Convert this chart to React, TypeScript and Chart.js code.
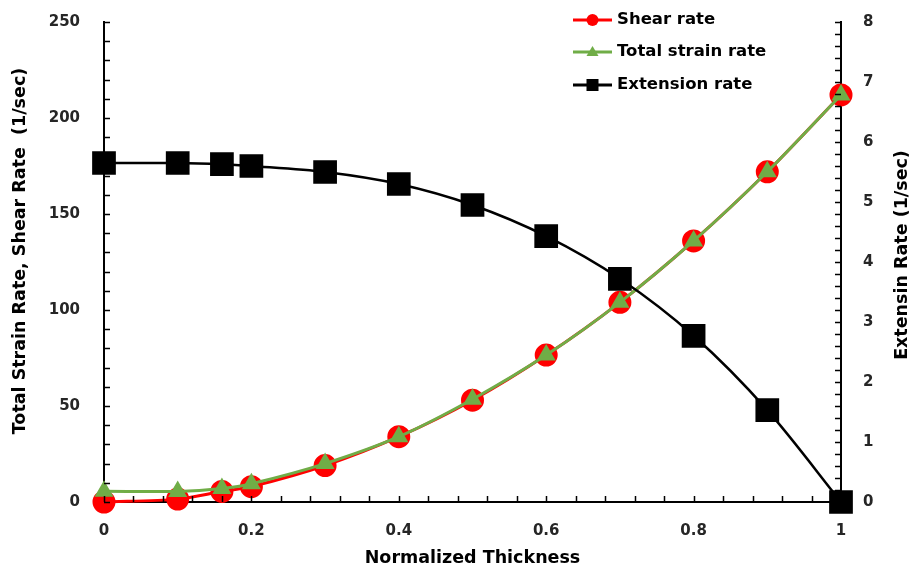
import React, { useEffect, useRef } from "react";
import { Chart, registerables } from "chart.js";

Chart.register(...registerables);

const thickness = [0, 0.1, 0.16, 0.2, 0.3, 0.4, 0.5, 0.6, 0.7, 0.8, 0.9, 1.0];
const shearRate = [0, 1.5, 5.5, 8, 19, 34, 53, 76.5, 104, 136, 172, 212];
const totalStrainRate = [5.6, 5.5, 7, 9.5, 20, 34, 53.5, 76.5, 104, 136, 172, 212];
const extensionRate = [5.65, 5.65, 5.63, 5.6, 5.5, 5.3, 4.95, 4.43, 3.72, 2.77, 1.53, 0];

const xTitle = "Normalized Thickness";
const yLeftTitle = "Total Strain Rate, Shear Rate  (1/sec)";
const yRightTitle = "Extensin Rate (1/sec)";

const FONT = "'DejaVu Sans', sans-serif";

const toPoints = (ys: number[]) => thickness.map((x, i) => ({ x, y: ys[i] }));

const tickPlugin = {
  id: "insideTicks",
  afterDraw(chart: any) {
    const ctx = chart.ctx;
    const { x, y, y1 } = chart.scales;
    const area = chart.chartArea;
    const len = 6;
    ctx.save();
    ctx.strokeStyle = "#000";
    ctx.lineWidth = 1.5;
    ctx.beginPath();
    for (let v = 0; v <= 250.001; v += 10) {
      const py = Math.round(y.getPixelForValue(v)) + 0.5;
      ctx.moveTo(area.left, py);
      ctx.lineTo(area.left + len, py);
    }
    for (let v = 0; v <= 8.001; v += 0.2) {
      const py = Math.round(y1.getPixelForValue(v)) + 0.5;
      ctx.moveTo(area.right, py);
      ctx.lineTo(area.right - len, py);
    }
    for (let v = 0; v <= 1.0001; v += 0.04) {
      const px = Math.round(x.getPixelForValue(v)) + 0.5;
      ctx.moveTo(px, area.bottom);
      ctx.lineTo(px, area.bottom - len);
    }
    ctx.stroke();

    // vertical axis titles
    ctx.fillStyle = "#000";
    ctx.font = `bold 17.5px ${FONT}`;
    ctx.textAlign = "center";
    ctx.textBaseline = "middle";
    ctx.save();
    ctx.translate(20, 251);
    ctx.rotate(-Math.PI / 2);
    ctx.fillText(yLeftTitle, 0, 0);
    ctx.restore();
    ctx.save();
    ctx.translate(902, 255);
    ctx.rotate(-Math.PI / 2);
    ctx.fillText(yRightTitle, 0, 0);
    ctx.restore();
    ctx.restore();
  },
};

const legendPlugin = {
  id: "customLegend",
  afterDraw(chart: any) {
    const ctx = chart.ctx;
    const rows = [20, 52, 85];
    const x0 = 573;
    const x1 = 612;
    ctx.save();
    chart.data.datasets.forEach((ds: any, i: number) => {
      const yy = rows[i];
      ctx.strokeStyle = ds.borderColor;
      ctx.lineWidth = 3;
      ctx.beginPath();
      ctx.moveTo(x0, yy);
      ctx.lineTo(x1, yy);
      ctx.stroke();
      ctx.fillStyle = ds.pointBackgroundColor;
      const cx = (x0 + x1) / 2;
      if (ds.pointStyle === "circle") {
        ctx.beginPath();
        ctx.arc(cx, yy, 6, 0, Math.PI * 2);
        ctx.fill();
      } else if (ds.pointStyle === "triangle") {
        ctx.beginPath();
        ctx.moveTo(cx, yy - 6);
        ctx.lineTo(cx + 6, yy + 4);
        ctx.lineTo(cx - 6, yy + 4);
        ctx.closePath();
        ctx.fill();
      } else {
        ctx.fillRect(cx - 6, yy - 6, 12, 12);
      }
      ctx.fillStyle = "#000";
      ctx.font = `bold 16.5px ${FONT}`;
      ctx.textBaseline = "middle";
      ctx.textAlign = "left";
      ctx.fillText(ds.label, 617, yy);
    });
    ctx.restore();
  },
};

const tickFont = { family: FONT, size: 15, weight: "bold" };
const titleFont = { family: FONT, size: 17.5, weight: "bold" };

export default function App() {
  const ref = useRef<HTMLCanvasElement | null>(null);

  useEffect(() => {
    document.body.style.margin = "0";
    const canvas = ref.current;
    if (!canvas) return;
    const chart = new Chart(canvas, {
      type: "line",
      data: {
        datasets: [
          {
            label: "Shear rate",
            data: toPoints(shearRate),
            yAxisID: "y",
            order: 3,
            borderColor: "#ff0000",
            backgroundColor: "#ff0000",
            pointBackgroundColor: "#ff0000",
            pointBorderColor: "#ff0000",
            pointStyle: "circle",
            pointRadius: 10,
            borderWidth: 3,
            tension: 0.3,
            clip: false,
          },
          {
            label: "Total strain rate",
            data: toPoints(totalStrainRate),
            yAxisID: "y",
            order: 2,
            borderColor: "#70ad47",
            backgroundColor: "#70ad47",
            pointBackgroundColor: "#70ad47",
            pointBorderColor: "#70ad47",
            pointStyle: "triangle",
            pointRadius: 8,
            borderWidth: 3,
            tension: 0.3,
            clip: false,
          },
          {
            label: "Extension rate",
            data: toPoints(extensionRate),
            yAxisID: "y1",
            order: 1,
            borderColor: "#000000",
            backgroundColor: "#000000",
            pointBackgroundColor: "#000000",
            pointBorderColor: "#000000",
            pointStyle: "rect",
            pointRadius: 15,
            borderWidth: 2.5,
            tension: 0.3,
            clip: false,
          },
        ] as any,
      },
      options: {
        responsive: false,
        animation: false,
        layout: { padding: { top: 22, left: 0, right: 0, bottom: 0 } },
        plugins: {
          legend: { display: false },
          tooltip: { enabled: false },
        },
        scales: {
          x: {
            type: "linear",
            min: 0,
            max: 1,
            ticks: {
              stepSize: 0.2,
              padding: 20,
              color: "#262626",
              font: tickFont,
              maxRotation: 0,
              callback: (v: number) => String(Math.round(v * 10) / 10),
            },
            grid: { display: true, drawOnChartArea: false, drawTicks: false },
            border: { display: true, color: "#000", width: 2 },
            title: {
              display: true,
              text: xTitle,
              color: "#000",
              font: titleFont,
              padding: { top: 8, bottom: 0 },
            },
            afterFit(scale: any) {
              scale.height = 67;
              scale.paddingLeft = 0;
              scale.paddingRight = 0;
            },
          },
          y: {
            type: "linear",
            position: "left",
            min: 0,
            max: 250,
            ticks: {
              stepSize: 50,
              padding: 24,
              color: "#262626",
              font: tickFont,
            },
            grid: { display: true, drawOnChartArea: false, drawTicks: false },
            border: { display: true, color: "#000", width: 2 },
            title: { display: false },
            afterFit(scale: any) {
              scale.width = 104;
              scale.paddingTop = 0;
              scale.paddingBottom = 0;
            },
          },
          y1: {
            type: "linear",
            position: "right",
            min: 0,
            max: 8,
            ticks: {
              stepSize: 1,
              padding: 22,
              color: "#262626",
              font: tickFont,
            },
            grid: { display: true, drawOnChartArea: false, drawTicks: false },
            border: { display: true, color: "#000", width: 2 },
            title: { display: false },
            afterFit(scale: any) {
              scale.width = 71;
              scale.paddingTop = 0;
              scale.paddingBottom = 0;
            },
          },
        },
      } as any,
      plugins: [tickPlugin, legendPlugin],
    });
    return () => chart.destroy();
  }, []);

  return (
    <div style={{ position: "absolute", left: 0, top: 0, width: 912, height: 569, background: "#fff" }}>
      <canvas ref={ref} width={912} height={569} />
    </div>
  );
}
